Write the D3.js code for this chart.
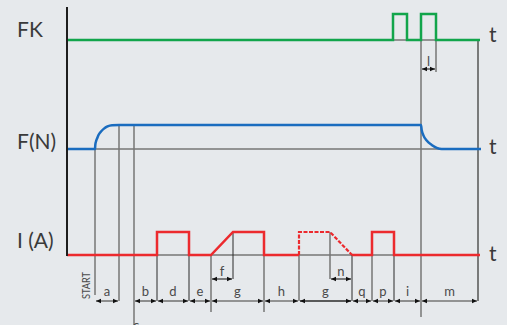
<!DOCTYPE html>
<html><head><meta charset="utf-8">
<script src="https://cdn.jsdelivr.net/npm/d3@7"></script>
<style>html,body{margin:0;padding:0;background:#e6e9ec;}svg{display:block;}</style>
</head><body>
<script>
// ---- data (time in arbitrary units, signal levels 0/1) ----
const trackNames = ["FK", "F(N)", "I (A)"];
const fkT = [0, 326, 326, 340, 340, 354, 354, 369, 369, 413];
const fkV = [0, 0, 1, 1, 0, 0, 1, 1, 0, 0];
const fT = [0, 28, 28.3, 29, 30.3, 31.5, 34.5, 37, 40.5, 45, 52, 354, 354.7, 356.3, 359.7, 364.7, 369.7, 374.7, 414];
const fV = [0, 0, 0.17, 0.31, 0.46, 0.58, 0.75, 0.85, 0.94, 0.99, 1, 1, 0.79, 0.58, 0.35, 0.17, 0.05, 0, 0];
const iT = [0, 90, 90, 122, 122, 144, 166, 197, 197, 232];
const iV = [0, 0, 1, 1, 0, 0, 1, 1, 0, 0];
const iDashT = [232, 232, 263, 285];
const iDashV = [0, 1, 1, 0];
const iT2 = [285, 305, 305, 327, 327, 413];
const iV2 = [0, 0, 1, 1, 0, 0];
// vertical marker lines: time, top track level, bottom end
const vT = [28, 52, 67, 90, 122, 144, 166, 197, 232, 263, 285, 305, 327, 354, 369, 411];
// dimension segments along the bottom
const dimLabels = ["a", "b", "d", "e", "g", "h", "g", "q", "p", "i", "m"];
const dimStart = [28, 67, 90, 122, 144, 197, 232, 285, 305, 327, 354];
const dimEnd = [52, 90, 122, 144, 197, 232, 285, 305, 327, 354, 411];
const subLabels = ["f", "n", "l"];
const subStart = [144, 263, 354];
const subEnd = [166, 285, 369];

const W = 507, H = 325;
const svg = d3.select("body").append("svg").attr("width", W).attr("height", H);
svg.append("rect").attr("width", W).attr("height", H).attr("fill", "#e6e9ec");

const x = d3.scaleLinear().domain([0, 413]).range([67, 480]);
const yFK = d3.scaleLinear().domain([0, 1]).range([40, 14]);
const yF = d3.scaleLinear().domain([0, 1]).range([149, 125]);
const yI = d3.scaleLinear().domain([0, 1]).range([255, 232]);
const yDim = 301, ySub = 279, ySubL = 69;

const GRAY = "#767676", DARK = "#2a2a2a";
const green = "#12a54b", blue = "#1a6cbf", red = "#ec2a2e";

// gray baselines
[yFK, yF, yI].forEach(s => {
  svg.append("line").attr("x1", x(0)).attr("x2", x(413)).attr("y1", s(0)).attr("y2", s(0))
    .attr("stroke", GRAY).attr("stroke-width", 1.5);
});

// vertical marker lines [time, y1, y2, color, width]
const vLines = [
  [vT[0], yF(0), 295, GRAY, 1.5],
  [vT[1], yF(1), yDim, GRAY, 1.5],
  [vT[2], yF(1), 325, GRAY, 1.5],
  [vT[3], yI(0), yDim, DARK, 1],
  [vT[4], yI(0), yDim, DARK, 1],
  [vT[5], yI(0), 312, GRAY, 1.5],
  [vT[6], yI(1), ySub, DARK, 1],
  [vT[7], yI(0), 312, GRAY, 1.5],
  [vT[8], yI(0), yDim, GRAY, 1.5],
  [vT[9], yI(1), ySub, GRAY, 1.5],
  [vT[10], yI(0), yDim, DARK, 1],
  [vT[11], yI(0), yDim, GRAY, 1.5],
  [vT[12], yI(0), yDim, DARK, 1],
  [vT[13], yFK(0), 317, GRAY, 1.5],
  [vT[14], yFK(0), 72, GRAY, 1.5],
  [vT[15], yFK(0), yDim, "#555", 1.5]
];
vLines.forEach(d => {
  svg.append("line").attr("x1", x(d[0])).attr("x2", x(d[0])).attr("y1", d[1]).attr("y2", d[2])
    .attr("stroke", d[3]).attr("stroke-width", d[4]);
});

function arrow(px, y, dir) {
  // tip at px, pointing in direction dir (-1 left, +1 right)
  const L = 5, h = 2.2;
  svg.append("path").attr("d", `M${px},${y}L${px - dir * L},${y - h}L${px - dir * L},${y + h}Z`).attr("fill", "#111");
}
const font = "Lato, 'Noto Sans', sans-serif";

// bottom dimension line
dimLabels.forEach((lab, i) => {
  const a = x(dimStart[i]) + 1, b = x(dimEnd[i]) - 1;
  svg.append("line").attr("x1", a).attr("x2", b).attr("y1", yDim).attr("y2", yDim)
    .attr("stroke", i === 6 ? DARK : GRAY).attr("stroke-width", 1.6);
  arrow(a, yDim, -1); arrow(b, yDim, 1);
  svg.append("text").attr("x", (x(dimStart[i]) + x(dimEnd[i])) / 2).attr("y", 296)
    .attr("text-anchor", "middle").attr("font-family", font).attr("font-size", 13)
    .attr("fill", "#4a4a4a").text(lab);
});
// "c" label, mostly cut off
svg.append("text").attr("x", x(67) + 2).attr("y", 330).attr("text-anchor", "middle")
  .attr("font-family", font).attr("font-size", 13).attr("fill", "#4a4a4a").text("c");

// sub dimensions f, n, l
subLabels.forEach((lab, i) => {
  const yy = i === 2 ? ySubL : ySub;
  const a = x(subStart[i]) + 1, b = x(subEnd[i]) - 1;
  svg.append("line").attr("x1", a).attr("x2", b).attr("y1", yy).attr("y2", yy)
    .attr("stroke", "#333").attr("stroke-width", 1.2);
  arrow(a, yy, -1); arrow(b, yy, 1);
  svg.append("text").attr("x", (x(subStart[i]) + x(subEnd[i])) / 2).attr("y", yy - 3)
    .attr("text-anchor", "middle").attr("font-family", font).attr("font-size", 13)
    .attr("fill", "#4a4a4a").text(lab);
});

// signals
const lineFK = d3.line().x(i => x(fkT[i])).y(i => yFK(fkV[i]));
svg.append("path").attr("d", lineFK(d3.range(fkT.length))).attr("fill", "none")
  .attr("stroke", green).attr("stroke-width", 2.5);

const lineF = d3.line().x(i => x(fT[i])).y(i => yF(fV[i])).curve(d3.curveMonotoneX);
svg.append("path").attr("d", lineF(d3.range(fT.length))).attr("fill", "none")
  .attr("stroke", blue).attr("stroke-width", 2.5);

const lineI = (T, V) => d3.line().x(i => x(T[i])).y(i => yI(V[i]))(d3.range(T.length));
svg.append("path").attr("d", lineI(iT, iV)).attr("fill", "none")
  .attr("stroke", red).attr("stroke-width", 2.5);
svg.append("path").attr("d", lineI(iDashT, iDashV)).attr("fill", "none")
  .attr("stroke", red).attr("stroke-width", 2.2).attr("stroke-dasharray", "4,1.5");
svg.append("path").attr("d", lineI(iT2, iV2)).attr("fill", "none")
  .attr("stroke", red).attr("stroke-width", 2.5);

// left axis
svg.append("line").attr("x1", 67).attr("x2", 67).attr("y1", 7).attr("y2", yI(0) + 1)
  .attr("stroke", "#1e1e1e").attr("stroke-width", 2);

// track labels
const labelY = [37, 149, 248];
trackNames.forEach((t, i) => {
  svg.append("text").attr("x", 17).attr("y", labelY[i]).attr("font-family", font)
    .attr("font-size", 21).attr("fill", "#3a3a3a").text(t);
});
// t labels
[yFK, yF, yI].forEach(s => {
  svg.append("text").attr("x", 489).attr("y", s(0) + 1.5 + (s === yI ? 4 : (s === yF ? 3 : 0)))
    .attr("font-family", font).attr("font-size", 21).attr("fill", "#3a3a3a").text("t");
});
// START
svg.append("text").attr("transform", "translate(89.5,299) rotate(-90)")
  .attr("font-family", font).attr("font-size", 11).attr("fill", "#4a4a4a")
  .attr("textLength", 27).attr("lengthAdjust", "spacingAndGlyphs").text("START");
</script>
</body></html>
